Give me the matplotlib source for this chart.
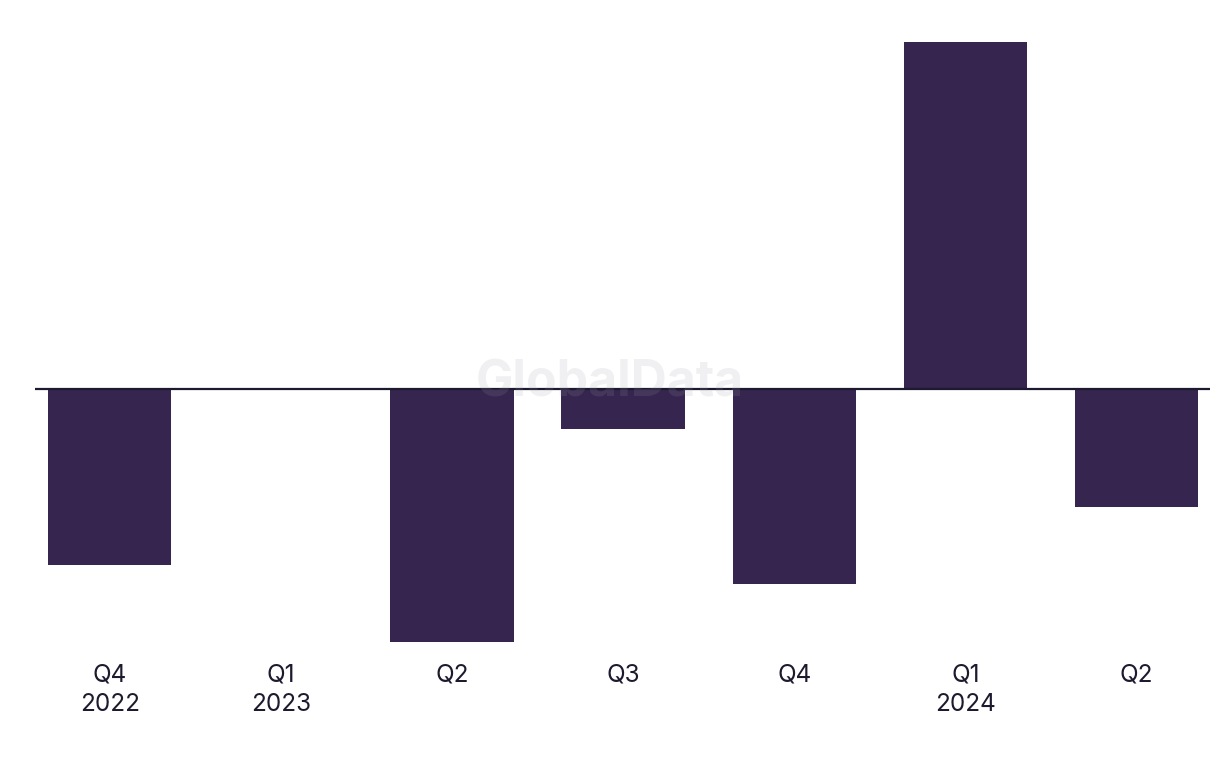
import matplotlib.pyplot as plt

# quarterly values (arbitrary units)
quarters = ['Q4\n2022', 'Q1\n2023', 'Q2', 'Q3', 'Q4', 'Q1\n2024', 'Q2']
values = [-1.76, 0.0, -2.53, -0.40, -1.95, 3.47, -1.18]

bar_color = '#36254f'
text_color = '#1c1a2e'

plt.rcParams['font.family'] = ['Inter', 'DejaVu Sans']

fig = plt.figure(figsize=(12.2, 7.68), dpi=100)
ax = fig.add_axes([35 / 1220, 118 / 768, 1175 / 1220, 620 / 768])

x = list(range(len(quarters)))
ax.bar(x, values, width=0.72, color=bar_color, zorder=2)
ax.axhline(0, color=text_color, linewidth=1.6, zorder=3)

ax.set_xlim(-0.437, 6.43)
ax.set_ylim(-2.61, 3.59)
ax.set_xticks(x)
ax.set_xticklabels(quarters, fontsize=17.5, color=text_color, linespacing=1.35)
ax.tick_params(axis='x', length=0, pad=10)
ax.set_yticks([])
for s in ax.spines.values():
    s.set_visible(False)

# watermark
fig.text(0.5, 0.501, 'GlobalData', fontsize=36, fontweight='bold',
         color='#a0a0aa', alpha=0.15, ha='center', va='center', zorder=10)

fig.savefig('out.png', dpi=100)
